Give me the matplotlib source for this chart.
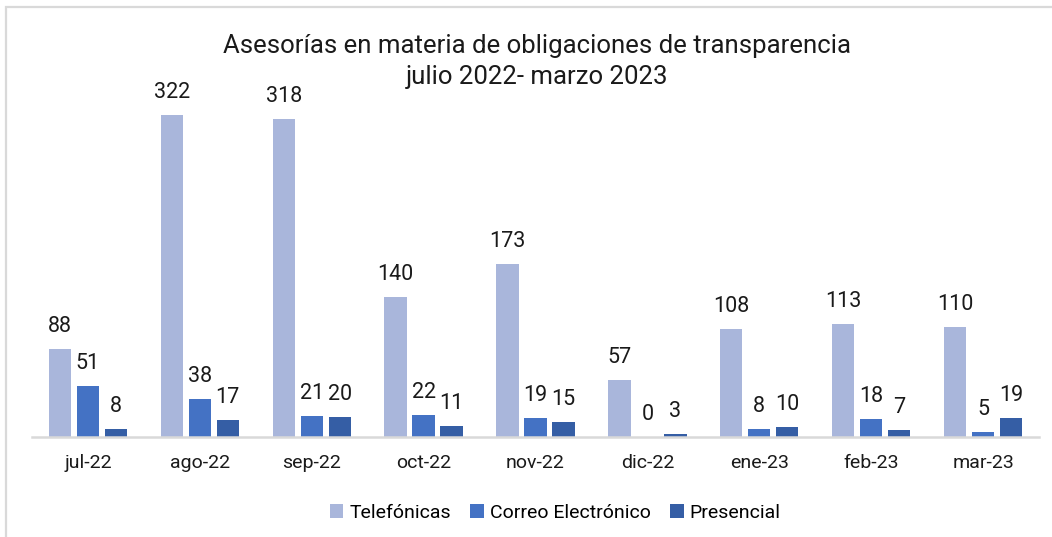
import matplotlib
matplotlib.use("Agg")
import matplotlib.pyplot as plt
import numpy as np
from matplotlib.patches import Rectangle

plt.rcParams["font.family"] = ["Roboto", "DejaVu Sans"]

MONTHS = ["jul-22", "ago-22", "sep-22", "oct-22", "nov-22", "dic-22", "ene-23", "feb-23", "mar-23"]
TELEFONICAS = [88, 322, 318, 140, 173, 57, 108, 113, 110]
CORREO = [51, 38, 21, 22, 19, 0, 8, 18, 5]
PRESENCIAL = [8, 17, 20, 11, 15, 3, 10, 7, 19]
SERIES = ["Telefónicas", "Correo Electrónico", "Presencial"]
COLORS = ["#A9B6DB", "#4472C4", "#355EA5"]
TITLE = ["Asesorías en materia de obligaciones de transparencia", "julio 2022- marzo 2023"]

W, H = 1052, 537
fig = plt.figure(figsize=(W / 100, H / 100), dpi=100)

# chart border (only left/top visible in the reference)
fig.patches.append(Rectangle((6 / W, -0.05), 1.1, (H - 7) / H + 0.05, transform=fig.transFigure,
                             fill=False, edgecolor="#D9D9D9", linewidth=1.6))

ax = fig.add_axes([32 / W, 100 / H, (1039 - 32) / W, 350 / H])
x = np.arange(len(MONTHS))
bw, off = 0.2, 0.25
for i, (vals, c, name) in enumerate(zip((TELEFONICAS, CORREO, PRESENCIAL), COLORS, SERIES)):
    bars = ax.bar(x + (i - 1) * off, vals, width=bw, color=c, label=name)
    ax.bar_label(bars, padding=8.5, fontsize=15.5, color="#1a1a1a")

ax.set_xlim(-0.5, len(MONTHS) - 0.5)
ax.set_ylim(0, 350)
ax.set_xticks(x, MONTHS, fontsize=14, color="#1a1a1a")
ax.tick_params(axis="x", length=0, pad=12)
ax.set_yticks([])
for s in ("top", "right", "left"):
    ax.spines[s].set_visible(False)
ax.spines["bottom"].set_color("#D9D9D9")
ax.spines["bottom"].set_linewidth(1.8)

# title as two separate lines (keeps line 2's box narrow)
for ypx, line in zip((46, 77), TITLE):
    fig.text(537 / W, 1 - ypx / H, line, ha="center", va="center", fontsize=18.5, color="#1a1a1a")

fig.legend(loc="center", bbox_to_anchor=(555 / W, 1 - 513 / H), ncol=3, frameon=False, fontsize=14,
           handlelength=0.7, handleheight=0.7, handletextpad=0.3, columnspacing=1.0)

fig.savefig("out.png", dpi=100)
